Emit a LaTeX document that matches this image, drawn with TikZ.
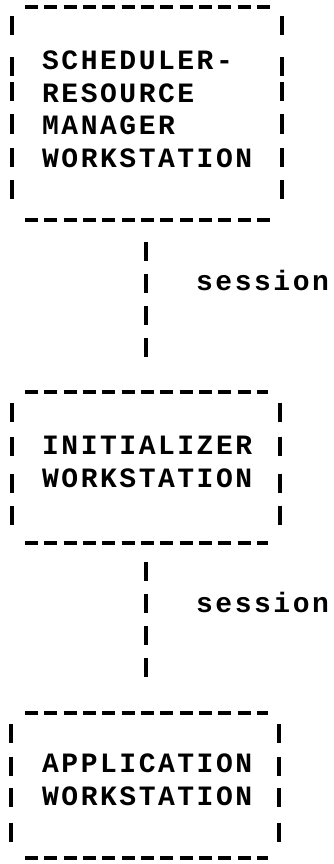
\documentclass[tikz,border=0pt]{standalone}
\usepackage{fontspec}
\newfontfamily\termfont[LetterSpace=9]{Liberation Mono}
\usetikzlibrary{positioning}
\tikzset{
  asciiline/.style={line width=3.4pt},
  hdash/.style={asciiline, dash pattern=on 13pt off 6.33pt},
  vdash/.style={asciiline, dash pattern=on 19pt off 13pt},
  boxtext/.style={font=\termfont\bfseries\fontsize{28}{32.5}\selectfont, align=left, inner sep=0pt, anchor=base west},
  labeltext/.style={font=\termfont\bfseries\fontsize{28}{32.5}\selectfont, inner sep=0pt, anchor=base west},
}

\begin{document}
\begin{tikzpicture}[x=1pt,y=-1pt]
  \useasboundingbox (0,0) rectangle (334,864);

  % Scheduler box
  \draw[hdash] (25,7) -- (270,7);
  \draw[hdash] (25,220) -- (270,220);
  \foreach \y in {26,67,92,124,157,189} {
    \draw[asciiline] (12,\y-9.5) -- (12,\y+9.5);
    \draw[asciiline] (282,\y-9.5) -- (282,\y+9.5);
  }
  \node[boxtext] (sched) at (42,167) {SCHEDULER-\\RESOURCE\\MANAGER\\WORKSTATION};

  % Initializer box
  \draw[hdash] (25,392) -- (268,392);
  \draw[hdash] (25,543) -- (268,543);
  \foreach \y in {412,446,483,515} {
    \draw[asciiline] (12,\y-9.5) -- (12,\y+9.5);
    \draw[asciiline] (280,\y-9.5) -- (280,\y+9.5);
  }
  \node[boxtext] (init) at (42,487) {INITIALIZER\\WORKSTATION};

  % Application box
  \draw[hdash] (25,713) -- (268,713);
  \draw[hdash] (25,858) -- (268,858);
  \foreach \y in {733,766,797,832} {
    \draw[asciiline] (11,\y-9.5) -- (11,\y+9.5);
    \draw[asciiline] (279,\y-9.5) -- (279,\y+9.5);
  }
  \node[boxtext] (appl) at (42,805) {APPLICATION\\WORKSTATION};

  % Sessions
  \coordinate (schedout) at (146,242);
  \coordinate (initin) at (146,358);
  \coordinate (initout) at (146,562);
  \coordinate (applin) at (146,678);
  \draw[vdash] (schedout) -- (initin);
  \draw[vdash] (initout) -- (applin);
  \node[labeltext] (sess1) at (196,290) {session};
  \node[labeltext] (sess2) at (196,612) {session};
\end{tikzpicture}
\end{document}
